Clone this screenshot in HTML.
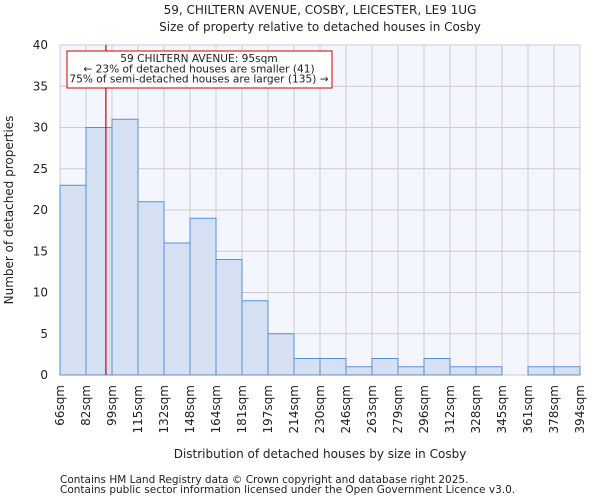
<!DOCTYPE html>
<html><head><meta charset="utf-8"><style>
body{margin:0;background:#fff;font-family:"DejaVu Sans","Liberation Sans",sans-serif;}
text{font-family:"DejaVu Sans","Liberation Sans",sans-serif;fill:#222;}
</style></head><body>
<svg id="chart" width="600" height="500" xmlns="http://www.w3.org/2000/svg">
<text x="320" y="14" text-anchor="middle" font-size="12">59, CHILTERN AVENUE, COSBY, LEICESTER, LE9 1UG</text>
<text x="320" y="31" text-anchor="middle" font-size="12">Size of property relative to detached houses in Cosby</text>
<rect x="60" y="45" width="520" height="330" fill="#f3f6fd"/>
<g id="grid"></g><g id="bars"></g><g id="axes"></g>
<text transform="translate(13,210) rotate(-90)" text-anchor="middle" font-size="12">Number of detached properties</text>
<text x="320" y="458" text-anchor="middle" font-size="12">Distribution of detached houses by size in Cosby</text>
<text x="60" y="483" font-size="10.5" fill="#444">Contains HM Land Registry data © Crown copyright and database right 2025.</text>
<text x="60" y="493" font-size="10.5" fill="#444">Contains public sector information licensed under the Open Government Licence v3.0.</text>
</svg>
<script>
const binEdges=[66,82,99,115,132,148,164,181,197,214,230,246,263,279,296,312,328,345,361,378,394];
const counts=[23,30,31,21,16,19,14,9,5,2,2,1,2,1,2,1,1,0,1,1];
const yTicks=[0,5,10,15,20,25,30,35,40];
const propertySize=95;
const NS="http://www.w3.org/2000/svg";
const X0=60,W=520,Y0=375,H=330,YMAX=40;
const bw=W/counts.length;
const yS=v=>Y0-v/YMAX*H;
const xIdx=i=>X0+i*bw;
function xVal(v){for(let i=0;i<binEdges.length-1;i++){if(v<=binEdges[i+1])return xIdx(i)+(v-binEdges[i])/(binEdges[i+1]-binEdges[i])*bw;}return X0+W;}
function mk(t,a,p){const e=document.createElementNS(NS,t);for(const k in a)e.setAttribute(k,a[k]);p.appendChild(e);return e;}
const grid=document.getElementById('grid'),bars=document.getElementById('bars'),axes=document.getElementById('axes');
yTicks.forEach(v=>{const l=mk('line',{x1:X0,x2:X0+W,y1:yS(v),y2:yS(v),stroke:'#cccccc','stroke-width':1},grid);


const t=mk('text',{x:X0-12,y:yS(v)+4,'text-anchor':'end','font-size':12},axes);t.textContent=v;

});
binEdges.forEach((e,i)=>{const x=xIdx(i);const l=mk('line',{x1:x,x2:x,y1:45,y2:Y0,stroke:'#cccccc','stroke-width':1},grid);


const t=mk('text',{transform:`translate(${x+4},${Y0+10}) rotate(-90)`,'text-anchor':'end','font-size':12},axes);t.textContent=e+'sqm';

});
counts.forEach((c,i)=>{if(c<=0)return;const r=mk('rect',{x:xIdx(i),y:yS(c),width:bw,height:Y0-yS(c),fill:'#d6e0f3',stroke:'#5a8fd6','stroke-width':1},bars);

});
const px=xVal(propertySize);
const rl=mk('line',{x1:px,x2:px,y1:45,y2:Y0,stroke:'#cc0000','stroke-width':1.2},axes);


const box=mk('rect',{x:67,y:51,width:265,height:37,fill:'#fff',stroke:'#cc0000','stroke-width':1},axes);


['59 CHILTERN AVENUE: 95sqm','← 23% of detached houses are smaller (41)','75% of semi-detached houses are larger (135) →'].forEach((s,i)=>{const t=mk('text',{x:199,y:62+i*10.3,'text-anchor':'middle','font-size':10.6},axes);t.textContent=s;

});
</script>
</body></html>
